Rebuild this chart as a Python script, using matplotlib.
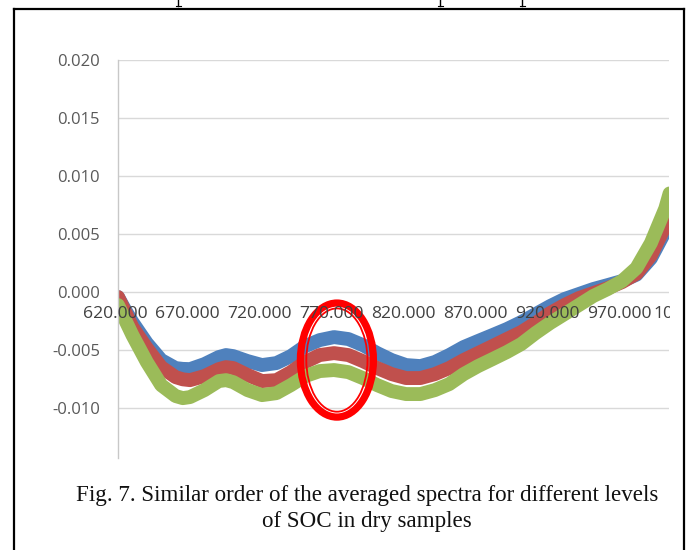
import matplotlib.pyplot as plt
from matplotlib.patches import Ellipse
from matplotlib.lines import Line2D
from matplotlib.transforms import Bbox, ScaledTranslation

# averaged spectra, one per SOC level
wavelength = [620, 625, 630, 640, 650, 660, 665, 670, 680, 690, 695, 700, 710, 720,
              730, 740, 750, 760, 770, 780, 790, 800, 810, 820, 830, 840, 850, 860,
              870, 880, 890, 900, 910, 920, 930, 940, 950, 960, 970, 980, 990, 1000, 1003]
spec_blue = [-0.00043, -0.00155, -0.00259, -0.00440, -0.00586, -0.00655, -0.00662, -0.00664,
             -0.00621, -0.00560, -0.00543, -0.00552, -0.00595, -0.00629, -0.00612, -0.00552,
             -0.00466, -0.00414, -0.00388, -0.00405, -0.00457, -0.00526, -0.00586, -0.00629,
             -0.00638, -0.00603, -0.00543, -0.00474, -0.00422, -0.00371, -0.00319, -0.00259,
             -0.00190, -0.00121, -0.00060, -0.00017, 0.00026, 0.00060, 0.00095, 0.00150,
             0.00290, 0.00525, 0.00620]
spec_red = [-0.00043, -0.00172, -0.00302, -0.00483, -0.00647, -0.00733, -0.00752, -0.00759,
            -0.00724, -0.00664, -0.00647, -0.00655, -0.00715, -0.00767, -0.00759, -0.00690,
            -0.00603, -0.00543, -0.00526, -0.00543, -0.00595, -0.00655, -0.00707, -0.00741,
            -0.00741, -0.00707, -0.00655, -0.00586, -0.00526, -0.00466, -0.00405, -0.00345,
            -0.00267, -0.00181, -0.00112, -0.00052, -0.00009, 0.00034, 0.00086, 0.00158,
            0.00315, 0.00570, 0.00680]
spec_green = [-0.00112, -0.00241, -0.00371, -0.00603, -0.00802, -0.00896, -0.00914, -0.00905,
              -0.00845, -0.00767, -0.00759, -0.00776, -0.00845, -0.00888, -0.00871, -0.00802,
              -0.00724, -0.00681, -0.00672, -0.00690, -0.00741, -0.00802, -0.00853, -0.00879,
              -0.00879, -0.00845, -0.00793, -0.00707, -0.00638, -0.00578, -0.00517, -0.00448,
              -0.00353, -0.00267, -0.00190, -0.00112, -0.00034, 0.00026, 0.00095, 0.00207,
              0.00422, 0.00720, 0.00850]

x_ticks = [620, 670, 720, 770, 820, 870, 920, 970, 1020]
y_ticks = [-0.010, -0.005, 0.000, 0.005, 0.010, 0.015, 0.020]

W, H = 688, 550
fig = plt.figure(figsize=(W / 100, H / 100), dpi=100)
fig.patch.set_facecolor('white')

ax = fig.add_axes([118 / W, 1 - 458 / H, (669 - 118) / W, (458 - 60) / H])
ax.set_xlim(620, 1002.6)
ax.set_ylim(-0.0143, 0.020)

for s in ['top', 'right', 'bottom']:
    ax.spines[s].set_visible(False)
ax.spines['left'].set_color('#c8c8c8')
ax.spines['left'].set_linewidth(1.0)

ax.set_yticks(y_ticks)
ax.set_yticklabels(['{:.3f}'.format(v) for v in y_ticks])
ax.tick_params(axis='y', length=0, pad=13, labelsize=12, labelcolor='#595959')
for lab in ax.get_yticklabels():
    lab.set_fontfamily('Open Sans')
ax.set_xticks([])
ax.yaxis.grid(True, color='#d9d9d9', linewidth=1.0)
ax.set_axisbelow(True)

for ys, col in [(spec_blue, '#4f81bd'), (spec_red, '#c0504d'), (spec_green, '#9bbb59')]:
    ax.plot(wavelength, ys, color=col, linewidth=10, solid_capstyle='round',
            solid_joinstyle='round')

# category labels sit just under the zero line, cut off at the plot's right edge
clip = Bbox.from_extents(0, 0, 670, H)
shift = ScaledTranslation(-3 / 100, 0, fig.dpi_scale_trans)
for xt in x_ticks:
    t = fig.text(xt, -0.0019, '{:.3f}'.format(xt), transform=ax.transData + shift,
                 ha='center', va='center', fontsize=12.6, color='#404040',
                 fontfamily='Open Sans')
    t.set_clip_box(clip)
    t.set_clip_on(True)

# double red ring around the 770 nm peak
ax.add_patch(Ellipse((772, -0.00586), 50.7, 0.00983, fill=False,
                     edgecolor='#ff0000', linewidth=5.2, zorder=5))
ax.add_patch(Ellipse((772, -0.00586), 42.5, 0.00890, fill=False,
                     edgecolor='#ff0000', linewidth=1.3, zorder=5))

# frame around figure and caption
def px_line(x0, y0, x1, y1, lw=1.6):
    fig.add_artist(Line2D([x0 / W, x1 / W], [1 - y0 / H, 1 - y1 / H],
                          transform=fig.transFigure, color='black', linewidth=lw))

px_line(14, 9, 684, 9)
px_line(14, 9, 14, H)
px_line(684, 9, 684, H)
for xs in [178, 440, 522]:
    px_line(xs, 0, xs, 6, lw=1.0)
    px_line(xs - 2.5, 6, xs + 2.5, 6, lw=0.8)

cap_kw = dict(ha='center', va='center', fontsize=16.6, color='#111111',
              fontfamily='Liberation Serif')
fig.text(367 / W, 1 - 496 / H,
         'Fig. 7. Similar order of the averaged spectra for different levels', **cap_kw)
fig.text(367 / W, 1 - 521 / H, 'of SOC in dry samples', **cap_kw)

plt.savefig('out.png', dpi=100)
